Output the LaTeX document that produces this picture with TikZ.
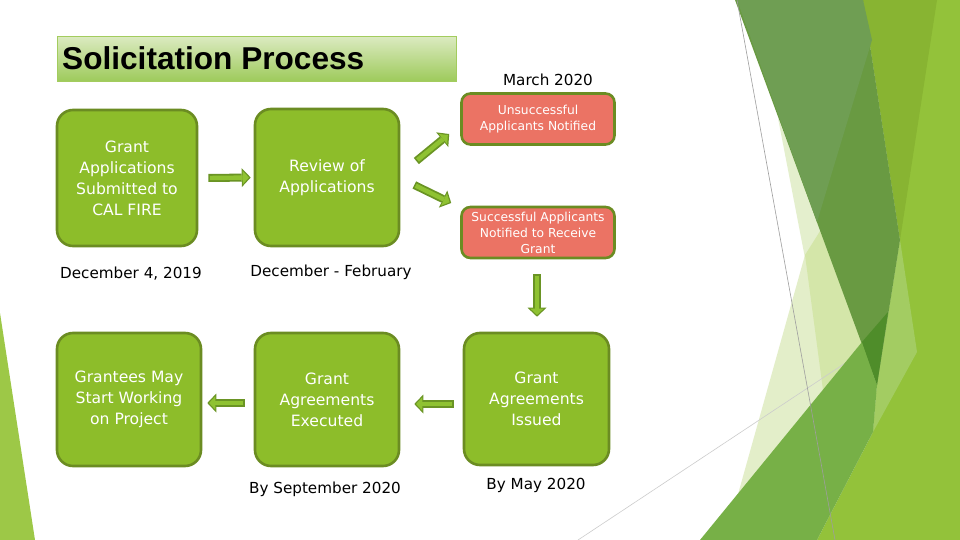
\documentclass[tikz,border=0pt]{standalone}
\usepackage{fontspec}
\setmainfont{DejaVu Sans}
\newfontfamily\arialf{Liberation Sans}
\usetikzlibrary{arrows.meta,calc}
\definecolor{boxfill}{HTML}{8DBD2A}
\definecolor{boxedge}{HTML}{6B8C22}
\definecolor{redfill}{HTML}{EB7364}
\definecolor{afill}{HTML}{8FC232}
\definecolor{aedge}{HTML}{6A9424}
\definecolor{titleedge}{HTML}{A3CC5E}
\definecolor{titletop}{HTML}{DBEAC0}
\definecolor{titlebot}{HTML}{9DCA5A}
\definecolor{dlime}{HTML}{93C23A}
\definecolor{dolive}{HTML}{88B432}
\definecolor{dlightband}{HTML}{A3CC62}
\definecolor{dpaleone}{HTML}{E3EEC9}
\definecolor{dpaletwo}{HTML}{D4E6A9}
\definecolor{dstrip}{HTML}{E4EFCD}
\definecolor{ddarkone}{HTML}{699A42}
\definecolor{ddarktwo}{HTML}{6F9E53}
\definecolor{dmed}{HTML}{77B047}
\definecolor{ddarkest}{HTML}{4F8D2A}
\definecolor{dlefttri}{HTML}{9DC847}
\begin{document}
\begin{tikzpicture}[x=1pt,y=-1pt,
  gbox/.style={draw=boxedge, line width=2.6pt, fill=boxfill, rounded corners=16pt,
    text=white, align=center, font=\fontsize{15.6}{21}\selectfont, inner sep=0pt},
  rbox/.style={draw=boxedge, line width=2.6pt, fill=redfill, rounded corners=9pt,
    text=white, align=center, font=\fontsize{12.3}{16}\selectfont, inner sep=0pt,
    minimum width=153pt, minimum height=51pt},
  lbl/.style={font=\fontsize{15.2}{20}\selectfont, text=black, inner sep=0pt},
  aout/.style={draw=aedge, line width=8pt, -{Triangle[length=9pt,width=19pt,line width=0pt]}},
  ain/.style={draw=afill, line width=4.4pt, -{Triangle[length=6.2pt,width=13.4pt,line width=0pt]},
    shorten >=1.8pt, shorten <=1.6pt},
  thinline/.style={line width=0.6pt}]
\useasboundingbox (0,0) rectangle (960,540);
\fill[white] (0,0) rectangle (960,540);

% decoration, right side
\fill[dlime] (863,0) -- (960,0) -- (960,540) -- (817,540) -- (873,432) -- (877,385) -- (900,240) -- cycle;
\fill[dolive] (863,0) -- (937,0) -- (900,240) -- cycle;
\fill[dlightband] (900,240) -- (917,352) -- (873,432) -- (877,385) -- cycle;
\fill[dstrip] (778,118) -- (840,280) -- (805,258) -- cycle;
\fill[dpaleone] (805,255) -- (862,342) -- (735,505) -- cycle;
\fill[dpaletwo] (805,255) -- (822,228) -- (862,342) -- (823,390) -- cycle;
\draw[thinline, draw=black!20] (578,540) -- (862,352);
\fill[ddarkone] (735,0) -- (863,0) -- (900,240) -- (877,385) -- cycle;
\fill[ddarktwo] (737,0) -- (863,0) -- (872,40) -- (817,222) -- cycle;
\fill[dmed] (700,540) -- (862,342) -- (877,385) -- (873,432) -- (817,540) -- cycle;
\fill[ddarkest] (862,342) -- (888,312) -- (877,385) -- cycle;
\draw[thinline, draw=black!38] (737,0) -- (835,540);
% decoration, left side
\fill[dlefttri] (0,313) -- (35,540) -- (0,540) -- cycle;

% title
\node[draw=titleedge, line width=1.3pt, top color=titletop, bottom color=titlebot,
  minimum width=399pt, minimum height=45pt, inner sep=0pt, anchor=north west] (title) at (57,36) {};
\node[anchor=base west, inner sep=0pt, font=\arialf\bfseries\fontsize{31.6}{36}\selectfont] (titletext) at (62,70) {Solicitation Process};

\node[lbl] (march) at (548,80) {March 2020};

% boxes
\node[gbox, minimum width=140pt, minimum height=136pt] (b1) at (127,178) {Grant\\Applications\\Submitted to\\CAL FIRE};
\node[gbox, minimum width=144pt, minimum height=137pt] (b2) at (327,177.5) {Review of\\Applications};
\node[rbox] (un) at (538,119) {Unsuccessful\\Applicants Notified};
\node[rbox] (su) at (538,232.5) {Successful Applicants\\Notified to Receive\\Grant};
\node[gbox, minimum width=145pt, minimum height=132pt] (b4) at (536.5,399) {Grant\\Agreements\\Issued};
\node[gbox, minimum width=144pt, minimum height=133pt] (b5) at (327,399.5) {Grant\\Agreements\\Executed};
\node[gbox, minimum width=144pt, minimum height=133pt] (b6) at (129,399.5) {Grantees May\\Start Working\\on Project};

% labels
\node[lbl] (d1) at (131,274) {December 4, 2019};
\node[lbl] (d2) at (331,272) {December - February};
\node[lbl] (d3) at (325,489) {By September 2020};
\node[lbl] (d4) at (536,485) {By May 2020};

% arrow end points
\coordinate (a1s) at ([xshift=10pt]b1.east);
\coordinate (a1e) at ([xshift=-3pt]b2.west);
\coordinate (a2s) at ([shift={(16pt,16.5pt)}]b2.east);
\coordinate (a2e) at ([shift={(-11pt,-15pt)}]un.west);
\coordinate (a3s) at ([shift={(14pt,-7.5pt)}]b2.east);
\coordinate (a3e) at ([shift={(-9pt,29.5pt)}]su.west);
\coordinate (a4s) at ([shift={(-1pt,-15pt)}]su.south);
\coordinate (a4e) at ([shift={(0.5pt,15pt)}]b4.north);
\coordinate (a5s) at ([shift={(-9pt,-5pt)}]b4.west);
\coordinate (a5e) at ([shift={(14pt,-4.5pt)}]b5.east);
\coordinate (a6s) at ([shift={(-9pt,-3.5pt)}]b5.west);
\coordinate (a6e) at ([shift={(5pt,-3.5pt)}]b6.east);

\foreach \a in {1,...,6}{
  \draw[aout] (a\a s) -- (a\a e);
  \draw[ain] (a\a s) -- (a\a e);
}
\end{tikzpicture}
\end{document}
